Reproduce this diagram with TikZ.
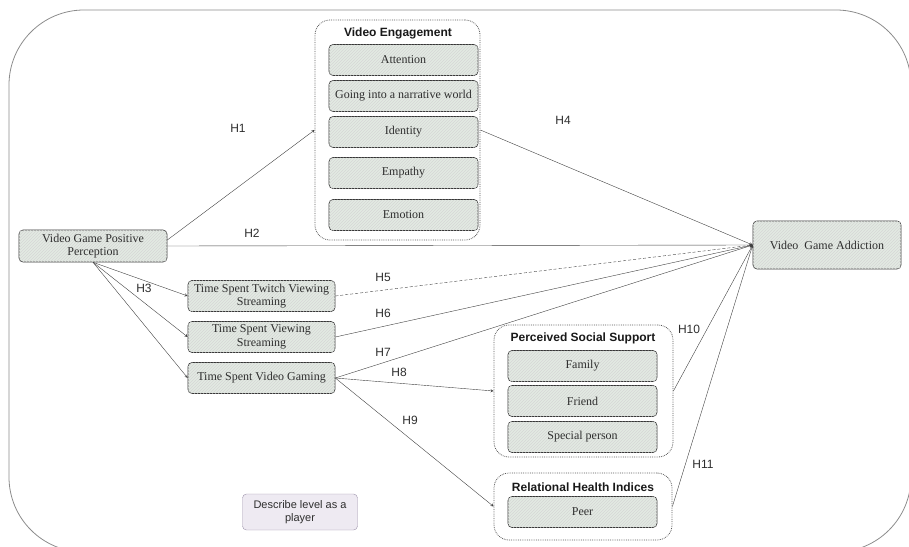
\documentclass[tikz,border=0pt]{standalone}
\usepackage{fontspec}
\setmainfont{Liberation Serif}
\setsansfont{Liberation Sans}
\usepackage{tikz}
\usetikzlibrary{shapes.geometric, arrows, patterns}
\definecolor{boxgreen}{HTML}{E2EAE2}
\definecolor{inkgray}{HTML}{2E2E2E}
\definecolor{notefill}{HTML}{EEEAF2}
\definecolor{noteline}{HTML}{9C92AA}
\tikzstyle{itembox} = [rectangle, rounded corners=4pt, minimum width=149pt, minimum height=31pt, inner xsep=1pt, align=center, text=inkgray, draw=black!80, semithick, fill=boxgreen, postaction={pattern=north east lines, pattern color=black!16}, font=\fontsize{12}{13.5}\selectfont]
\tikzstyle{groupbox} = [rectangle, rounded corners=15pt, draw=black!65, densely dotted, thick]
\tikzstyle{grouptitle} = [font=\sffamily\bfseries\fontsize{12}{14}\selectfont, text=black!90]
\tikzstyle{hlabel} = [font=\sffamily\fontsize{12}{14}\selectfont, text=inkgray]
\tikzstyle{arrow} = [->,>=stealth, draw=black!75]

\begin{document}
\begin{tikzpicture}[x=1pt, y=-1pt]
    \useasboundingbox (0,0) rectangle (909,546);
    \clip (0,0) rectangle (909,546);
    \draw [black!45, thick, rounded corners=75pt] (9,10) rectangle (911,552);

    % groups
    \node (VidEng) [groupbox, minimum width=165pt, minimum height=220pt] at (397.5,130) {};
    \node (VidEngTitle) [grouptitle] at (398,33) {Video Engagement};
    \node (SocSup) [groupbox, minimum width=179pt, minimum height=132pt] at (583.5,391) {};
    \node (SocSupTitle) [grouptitle] at (583,338) {Perceived Social Support};
    \node (RelHealth) [groupbox, minimum width=178pt, minimum height=67pt] at (583,506.5) {};
    \node (RelHealthTitle) [grouptitle] at (583,487) {Relational Health Indices};

    % engagement items
    \node (Attention) [itembox] at (403.5,60) {Attention};
    \node (Narrative) [itembox] at (403.5,96) {Going into a narrative world};
    \node (Identity) [itembox] at (403.5,132) {Identity};
    \node (Empathy) [itembox] at (403.5,173) {Empathy};
    \node (Emotion) [itembox] at (403.5,215) {Emotion};

    % support items
    \node (Family) [itembox] at (582.5,366) {Family};
    \node (Friend) [itembox] at (582.5,401) {Friend};
    \node (Special) [itembox] at (582.5,437) {Special person};
    \node (Peer) [itembox] at (582.5,512) {Peer};

    % main variables
    \node (PosPerc) [itembox, minimum width=148pt, minimum height=32pt] at (93,246) {Video Game Positive\\Perception};
    \node (TwitchTime) [itembox, minimum width=147pt] at (261.5,296) {Time Spent Twitch Viewing\\Streaming};
    \node (StreamTime) [itembox, minimum width=147pt] at (261.5,337) {Time Spent Viewing\\Streaming};
    \node (GameTime) [itembox, minimum width=147pt] at (261.5,378) {Time Spent Video Gaming};
    \node (Addiction) [itembox, minimum width=148pt, minimum height=48pt] at (827,245) {Video~~Game Addiction};

    \node (Describe) [rectangle, rounded corners=4pt, minimum width=115pt, minimum height=36pt, align=center, draw=noteline, fill=notefill, text=inkgray, font=\sffamily\fontsize{11}{13}\selectfont] at (300,512) {Describe level as a\\player};

    % hypotheses
    \draw [arrow] ([yshift=6pt]PosPerc.east) -- (VidEng.west);
    \draw [arrow] (PosPerc.east) -- (Addiction.west);
    \draw [arrow] (PosPerc.south) -- (TwitchTime.west);
    \draw [arrow] (PosPerc.south) -- (StreamTime.west);
    \draw [arrow] (PosPerc.south) -- (GameTime.west);
    \draw [arrow] (VidEng.east) -- (Addiction.west);
    \draw [arrow, densely dashed] (TwitchTime.east) -- (Addiction.west);
    \draw [arrow] (StreamTime.east) -- (Addiction.west);
    \draw [arrow] (GameTime.east) -- (Addiction.west);
    \draw [arrow] (GameTime.east) -- (SocSup.west);
    \draw [arrow] (GameTime.east) -- (RelHealth.west);
    \draw [arrow] (SocSup.east) -- (Addiction.west);
    \draw [arrow] (RelHealth.east) -- (Addiction.west);

    \node (lblH1) [hlabel] at (238,128) {H1};
    \node (lblH2) [hlabel] at (252,233) {H2};
    \node (lblH3) [hlabel] at (144,288) {H3};
    \node (lblH4) [hlabel] at (563,120) {H4};
    \node (lblH5) [hlabel] at (383,277) {H5};
    \node (lblH6) [hlabel] at (383,313) {H6};
    \node (lblH7) [hlabel] at (383,352) {H7};
    \node (lblH8) [hlabel] at (399,372) {H8};
    \node (lblH9) [hlabel] at (410,420) {H9};
    \node (lblH10) [hlabel] at (689,329) {H10};
    \node (lblH11) [hlabel] at (703,464) {H11};
\end{tikzpicture}
\end{document}
